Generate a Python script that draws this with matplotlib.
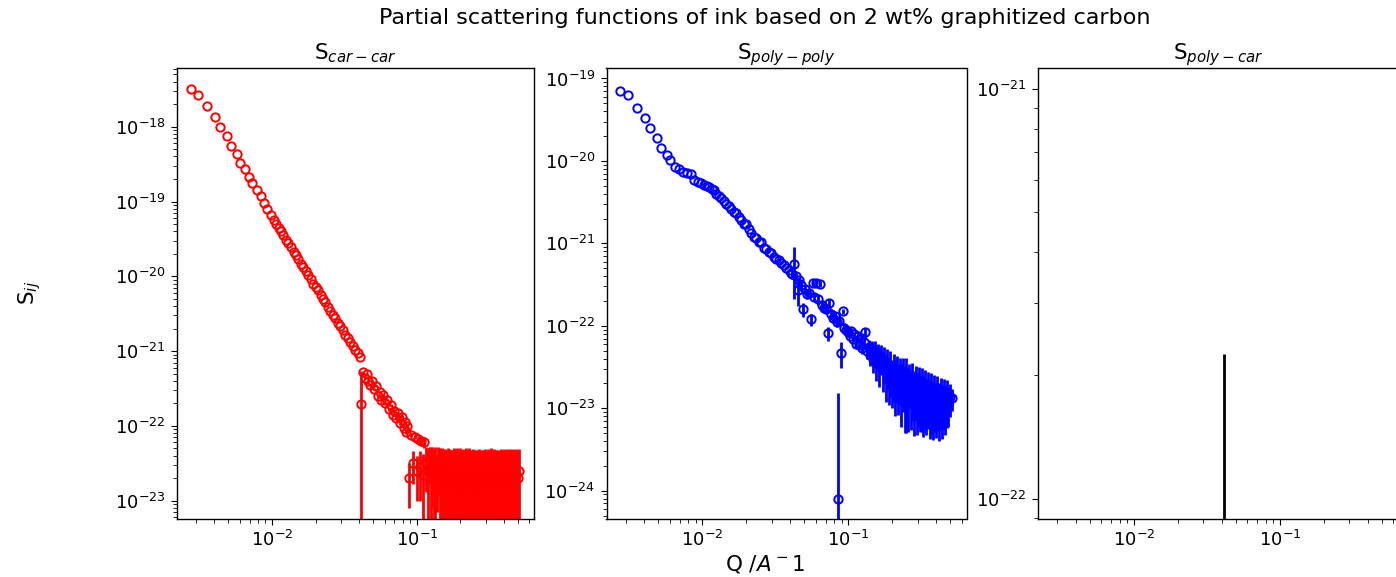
import matplotlib

matplotlib.use("Agg")

import matplotlib.pyplot as plt
import numpy as np

# Q grid (1/A), shared by the car-car and poly-poly panels
Q_LOW = np.array([
    0.00274, 0.00311, 0.00356, 0.00404, 0.00438, 0.00492, 0.00519, 0.00571,
    0.00606, 0.00649, 0.00689, 0.00734, 0.00787, 0.00839, 0.00885, 0.00928,
    0.00980, 0.0103, 0.0107, 0.0111, 0.0116, 0.0120, 0.0125, 0.0130, 0.0135,
    0.0141, 0.0146, 0.0152, 0.0158, 0.0165, 0.0171, 0.0178, 0.0185, 0.0193,
    0.0200, 0.0208, 0.0217, 0.0225, 0.0234, 0.0244, 0.0253, 0.0264, 0.0274,
    0.0285, 0.0297, 0.0308, 0.0321, 0.0333, 0.0347, 0.0361, 0.0375, 0.0390,
    0.0406,
])
Q_MID = np.array([
    0.0415, 0.0424, 0.0437, 0.0450, 0.0463, 0.0477, 0.0491, 0.0506, 0.0521,
    0.0537, 0.0553, 0.0570, 0.0587, 0.0604, 0.0622, 0.0641, 0.0660, 0.0680,
    0.0700, 0.0721, 0.0743, 0.0765, 0.0788, 0.0812, 0.0836, 0.0845, 0.0861,
    0.0887, 0.0914, 0.0941, 0.0969, 0.0998,
])
Q_HIGH = np.array([
    0.1023, 0.1049, 0.1075, 0.1102, 0.1129, 0.1158, 0.1187, 0.1216, 0.1247,
    0.1278, 0.1310, 0.1343, 0.1376, 0.1411, 0.1446, 0.1482, 0.1519, 0.1557,
    0.1596, 0.1636, 0.1677, 0.1719, 0.1762, 0.1806, 0.1851, 0.1897, 0.1945,
    0.1993, 0.2043, 0.2094, 0.2147, 0.2200, 0.2255, 0.2312, 0.2370, 0.2429,
    0.2490, 0.2552, 0.2616, 0.2681, 0.2748, 0.2817, 0.2887, 0.2959, 0.3033,
    0.3109, 0.3187, 0.3267, 0.3348, 0.3432, 0.3518, 0.3606, 0.3696, 0.3788,
    0.3883, 0.3980, 0.4079, 0.4181, 0.4286, 0.4393, 0.4503, 0.4616, 0.4731,
    0.4849, 0.4971, 0.5095,
])

# S_car-car
S_CC_LOW = np.array([
    3.16e-18, 2.65e-18, 1.91e-18, 1.34e-18, 1.0e-18, 7.5e-19, 5.6e-19, 4.3e-19,
    3.3e-19, 2.75e-19, 2.15e-19, 1.75e-19, 1.41e-19, 1.19e-19, 9.5e-20, 7.9e-20,
    6.7e-20, 5.6e-20, 5.0e-20, 4.47e-20, 3.98e-20, 3.55e-20, 3.09e-20, 2.75e-20,
    2.45e-20, 2.14e-20, 1.9e-20, 1.7e-20, 1.48e-20, 1.32e-20, 1.17e-20, 1.05e-20,
    9.1e-21, 7.9e-21, 7.2e-21, 6.5e-21, 5.6e-21, 5.0e-21, 4.5e-21, 3.9e-21,
    3.47e-21, 3.0e-21, 2.75e-21, 2.4e-21, 2.14e-21, 1.9e-21, 1.66e-21, 1.5e-21,
    1.32e-21, 1.17e-21, 1.05e-21, 9.3e-22, 8.3e-22,
])
S_CC_MID = np.array([
    1.95e-22, 5.2e-22, 4.4e-22, 4.9e-22, 4.0e-22, 3.55e-22, 4.0e-22, 3.16e-22,
    3.4e-22, 2.5e-22, 2.8e-22, 2.24e-22, 2.6e-22, 2.0e-22, 2.2e-22, 1.66e-22,
    1.9e-22, 1.41e-22, 1.58e-22, 1.26e-22, 1.48e-22, 1.1e-22, 1.32e-22, 9.3e-23,
    1.12e-22, 8.3e-23, 1.0e-22, 2.0e-23, 7.6e-23, 3.16e-23, 7.1e-23, 2.5e-23,
])
E_CC_MID = np.array([
    3.5e-22, 1e-23, 1e-23, 1e-23, 1e-23, 1e-23, 1e-23, 1e-23,
    1e-23, 1e-23, 1e-23, 8e-24, 8e-24, 8e-24, 8e-24, 8e-24,
    8e-24, 6e-24, 6e-24, 6e-24, 6e-24, 6e-24, 6e-24, 5e-24,
    5e-24, 5e-24, 5e-24, 1.2e-23, 5e-24, 1.5e-23, 5e-24, 1.5e-23,
])
S_CC_HIGH = np.array([
    6.6e-23, 2.8e-23, 6.3e-23, 2.2e-23, 6.0e-23, 3.3e-23, 2.5e-23, 3.5e-23,
    2.6e-23, 3.0e-23, 2.0e-23, 2.8e-23, 2.4e-23, 3.16e-23, 2.1e-23, 2.5e-23,
    1.9e-23, 2.6e-23, 1.78e-23, 2.4e-23, 1.58e-23, 2.2e-23, 1.66e-23, 2.3e-23,
    1.5e-23, 2.0e-23, 1.4e-23, 2.1e-23, 1.58e-23, 1.9e-23, 1.3e-23, 2.2e-23,
    1.7e-23, 2.4e-23, 1.5e-23, 2.0e-23, 1.6e-23, 2.3e-23, 1.4e-23, 1.9e-23,
    1.7e-23, 2.2e-23, 1.5e-23, 2.0e-23, 1.8e-23, 2.3e-23, 1.6e-23, 2.1e-23,
    1.7e-23, 2.2e-23, 1.5e-23, 2.0e-23, 1.8e-23, 2.4e-23, 1.6e-23, 2.1e-23,
    1.9e-23, 2.3e-23, 1.7e-23, 2.2e-23, 1.8e-23, 2.4e-23, 1.9e-23, 2.3e-23,
    2.0e-23, 2.5e-23,
])
E_CC_HIGH = np.array([
    6e-24, 1.8e-23, 8e-24, 2.0e-23, 1.0e-23, 2.0e-23, 2.4e-23, 1.8e-23,
    2.6e-23, 2.2e-23, 2.8e-23, 2.4e-23, 1.7e-23, 2.0e-23, 3.0e-23, 2.5e-23,
    3.0e-23, 2.3e-23, 3.0e-23, 2.6e-23, 3.4e-23, 2.6e-23, 3.1e-23, 2.7e-23,
    3.2e-23, 3.0e-23, 3.3e-23, 2.9e-23, 3.2e-23, 3.0e-23, 3.4e-23, 2.8e-23,
    3.1e-23, 2.6e-23, 3.3e-23, 2.9e-23, 3.2e-23, 2.5e-23, 3.4e-23, 3.0e-23,
    3.1e-23, 2.6e-23, 3.3e-23, 2.9e-23, 2.8e-23, 2.6e-23, 3.2e-23, 2.9e-23,
    3.0e-23, 2.7e-23, 3.3e-23, 2.8e-23, 3.0e-23, 2.5e-23, 3.2e-23, 2.8e-23,
    2.9e-23, 2.6e-23, 3.1e-23, 2.7e-23, 3.0e-23, 2.5e-23, 2.9e-23, 2.6e-23,
    2.8e-23, 2.4e-23,
])

# S_poly-poly
S_PP_LOW = np.array([
    7.1e-20, 6.3e-20, 4.35e-20, 3.34e-20, 2.49e-20, 1.88e-20, 1.43e-20, 1.18e-20,
    1.03e-20, 8.5e-21, 7.9e-21, 7.4e-21, 7.1e-21, 6.9e-21, 5.9e-21, 5.6e-21,
    5.4e-21, 5.1e-21, 4.9e-21, 4.8e-21, 4.57e-21, 4.4e-21, 3.98e-21, 3.72e-21,
    3.6e-21, 3.24e-21, 3.02e-21, 2.82e-21, 2.63e-21, 2.4e-21, 2.35e-21, 2.09e-21,
    1.9e-21, 1.74e-21, 1.7e-21, 1.48e-21, 1.35e-21, 1.2e-21, 1.15e-21, 1.05e-21,
    1.03e-21, 8.9e-22, 8.5e-22, 7.9e-22, 7.6e-22, 6.9e-22, 6.5e-22, 6.2e-22,
    5.75e-22, 5.4e-22, 5.0e-22, 4.7e-22, 4.4e-22,
])
S_PP_MID = np.array([
    4.2e-22, 5.6e-22, 4.0e-22, 2.75e-22, 3.55e-22, 3.16e-22, 1.58e-22, 2.8e-22,
    2.4e-22, 2.5e-22, 1.2e-22, 3.3e-22, 2.24e-22, 3.3e-22, 2.1e-22, 3.2e-22,
    1.78e-22, 1.66e-22, 1.58e-22, 8.1e-23, 1.9e-22, 1.38e-22, 1.26e-22, 1.32e-22,
    1.12e-22, 7.9e-25, 1.15e-22, 4.7e-23, 1.5e-22, 9.5e-23, 8.9e-23, 8.3e-23,
])
E_PP_MID = np.array([
    5e-23, 3.5e-22, 4e-23, 1.0e-22, 4e-23, 5e-23, 3e-23, 3e-23,
    3e-23, 3e-23, 2e-23, 3e-23, 2.5e-23, 2.5e-23, 3e-23, 2.5e-23,
    2e-23, 2e-23, 2e-23, 1.5e-23, 2e-23, 2e-23, 1.5e-23, 1.5e-23,
    1.5e-23, 1.45e-23, 1.5e-23, 1.6e-23, 1.2e-23, 1.2e-23, 1.1e-23, 1.0e-23,
])
S_PP_HIGH = np.array([
    7.6e-23, 8.7e-23, 6.9e-23, 7.9e-23, 6.0e-23, 7.6e-23, 5.8e-23, 7.1e-23,
    5.4e-23, 6.3e-23, 8.3e-23, 5.0e-23, 5.6e-23, 4.4e-23, 5.2e-23, 4.0e-23,
    4.9e-23, 3.55e-23, 4.4e-23, 3.4e-23, 4.2e-23, 3.16e-23, 3.8e-23, 2.8e-23,
    3.5e-23, 2.6e-23, 3.16e-23, 2.4e-23, 2.9e-23, 2.3e-23, 2.75e-23, 2.14e-23,
    2.6e-23, 2.0e-23, 2.5e-23, 1.9e-23, 2.3e-23, 1.82e-23, 2.2e-23, 1.74e-23,
    2.1e-23, 1.66e-23, 2.0e-23, 1.58e-23, 1.9e-23, 1.51e-23, 1.82e-23, 1.45e-23,
    1.74e-23, 1.38e-23, 1.66e-23, 1.32e-23, 1.58e-23, 1.26e-23, 1.51e-23, 1.23e-23,
    1.48e-23, 1.2e-23, 1.45e-23, 1.17e-23, 1.41e-23, 1.17e-23, 1.38e-23, 1.2e-23,
    1.38e-23, 1.32e-23,
])
E_PP_HIGH = np.array([
    5e-24, 6e-24, 5e-24, 6e-24, 6e-24, 8e-24, 6e-24, 9e-24,
    8e-24, 1.0e-23, 1.2e-23, 1.0e-23, 1.2e-23, 1.1e-23, 1.3e-23, 1.3e-23,
    1.6e-23, 1.4e-23, 1.6e-23, 1.6e-23, 1.7e-23, 1.6e-23, 1.8e-23, 1.6e-23,
    1.8e-23, 1.5e-23, 1.8e-23, 1.4e-23, 1.7e-23, 1.5e-23, 1.6e-23, 1.3e-23,
    1.5e-23, 1.4e-23, 1.6e-23, 1.4e-23, 1.8e-23, 1.3e-23, 1.2e-23, 1.2e-23,
    1.4e-23, 1.2e-23, 1.3e-23, 1.1e-23, 1.3e-23, 1.0e-23, 1.3e-23, 1.0e-23,
    1.2e-23, 9e-24, 1.1e-23, 9e-24, 1.1e-23, 8.5e-24, 1.0e-23, 8e-24,
    9.5e-24, 8e-24, 9e-24, 7.5e-24, 8.5e-24, 7e-24, 8e-24, 6e-24,
    6e-24, 4e-24,
])

# S_poly-car: only one error bar reaches into the positive range
Q_PC = np.array([0.0415])
S_PC = np.array([-1.2e-22])
E_PC = np.array([3.45e-22])

plt.rcParams.update({
    "xtick.labelsize": 13,
    "ytick.labelsize": 13,
    "xtick.major.size": 4.5,
    "ytick.major.size": 4.5,
    "xtick.minor.size": 2.6,
    "ytick.minor.size": 2.6,
    "axes.linewidth": 1.0,
})

W, H = 1396, 577
fig = plt.figure(figsize=(W / 100, H / 100), dpi=100)


def _axes(left, width):
    return fig.add_axes([left / W, (H - 519) / H, width / W, 451 / H])


def _errorbar(ax, q, s, err, color):
    ax.errorbar(q, s, yerr=err, fmt="o", color=color, mfc="none",
                ms=6, mew=1.4, elinewidth=2.0, capsize=0)


ax1 = _axes(177, 357)
_errorbar(ax1, Q_LOW, S_CC_LOW, None, "red")
_errorbar(ax1, Q_MID, S_CC_MID, E_CC_MID, "red")
_errorbar(ax1, Q_HIGH, S_CC_HIGH, E_CC_HIGH, "red")
ax1.set_ylim(5.69e-24, 6.10e-18)
ax1.set_title("S$_{car-car}$", fontsize=15.5)

ax2 = _axes(606.5, 360)
_errorbar(ax2, Q_LOW, S_PP_LOW, None, "blue")
_errorbar(ax2, Q_MID, S_PP_MID, E_PP_MID, "blue")
_errorbar(ax2, Q_HIGH, S_PP_HIGH, E_PP_HIGH, "blue")
ax2.set_ylim(4.54e-25, 1.34e-19)
ax2.set_title("S$_{poly-poly}$", fontsize=15.5)

ax3 = _axes(1038, 360)
_errorbar(ax3, Q_PC, S_PC, E_PC, "black")
ax3.set_ylim(8.93e-23, 1.125e-21)
ax3.set_title("S$_{poly-car}$", fontsize=15.5)

for ax in (ax1, ax2, ax3):
    ax.set_xscale("log")
    ax.set_yscale("log")
    ax.set_xlim(2.21e-3, 0.645)

fig.text(765 / W, 1 - 18 / H, "Partial scattering functions of ink based on 2 wt% graphitized carbon",
         ha="center", va="center", fontsize=16)
fig.text(765 / W, 1 - 564 / H, "Q /$A^-1$", ha="center", va="center", fontsize=15.5)
fig.text(30 / W, 1 - 293 / H, "S$_{ij}$", ha="center", va="center", rotation=90, fontsize=15.5)

fig.savefig("out.png", dpi=100)
